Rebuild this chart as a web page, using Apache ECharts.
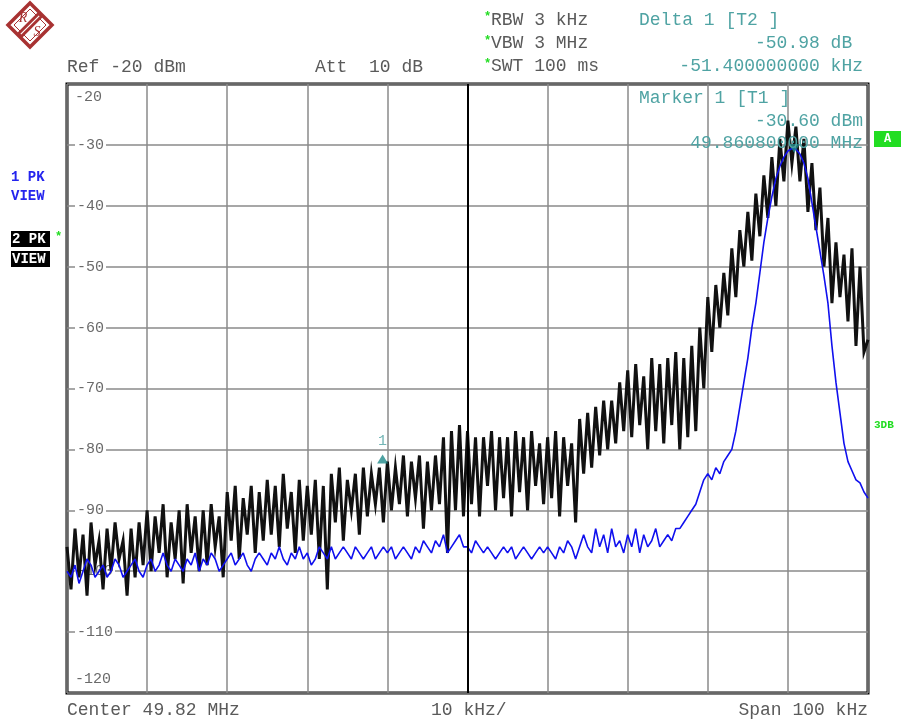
<!DOCTYPE html>
<html><head><meta charset="utf-8">
<script src="https://cdn.jsdelivr.net/npm/echarts@6/dist/echarts.min.js"></script>
<style>html,body{margin:0;padding:0;background:#fff}#c{width:904px;height:719px}</style>
</head><body><div id="c"></div>
<script>
// Frequency offset from start (49.77 MHz) in kHz, 0.5 kHz per point
const freqStepKHz = 0.5;
// Trace 1 (PK, black), dBm
const trace1 = [
 -96,-103,-93,-101,-94,-104,-92,-99,-95,-103,
 -93,-100,-92,-98,-95,-104,-93,-101,-92,-99,
 -90,-100,-91,-97,-89,-101,-92,-98,-90,-102,
 -89,-97,-91,-100,-90,-99,-89,-96,-91,-101,
 -87,-95,-86,-98,-88,-94,-86,-97,-87,-95,
 -85,-94,-86,-96,-84,-93,-87,-97,-85,-95,
 -86,-94,-85,-98,-86,-103,-84,-92,-83,-95,
 -85,-90,-84,-94,-83,-91,-84,-89,-83,-92,
 -82,-90,-83,-89,-81,-91,-82,-88,-81,-93,
 -82,-90,-81,-89,-78,-97,-77,-90,-76,-91,
 -77,-89,-78,-91,-78,-86,-77,-90,-78,-88,
 -78,-91,-77,-87,-78,-90,-77,-86,-79,-89,
 -78,-88,-77,-91,-78,-86,-79,-92,-75,-84,
 -74,-83,-73,-81,-72,-80,-72,-79,-69,-77,
 -67,-78,-66,-76,-68,-80,-65,-77,-66,-79,
 -65,-76,-64,-80,-65,-78,-63,-77,-60,-70,
 -55,-64,-53,-60,-51,-58,-47,-55,-44,-50,
 -41,-49,-38,-45,-35,-42,-32,-40,-29,-36,
 -26,-33,-27,-36,-29,-41,-33,-44,-37,-50,
 -42,-56,-46,-55,-48,-59,-47,-63,-50,-64,-62
];
// Trace 2 (PK, blue), dBm
const trace2 = [
 -100,-101,-99,-102,-100,-98,-99,-101,-100,-99,
 -101,-100,-98,-99,-101,-100,-99,-98,-100,-101,
 -99,-98,-100,-99,-97,-99,-100,-98,-99,-100,
 -98,-99,-97,-100,-98,-99,-97,-98,-100,-99,
 -98,-97,-99,-98,-97,-99,-100,-98,-97,-98,
 -99,-97,-98,-96,-98,-99,-97,-98,-96,-98,
 -97,-99,-98,-96,-97,-98,-96,-98,-97,-96,
 -97,-98,-96,-97,-98,-97,-96,-98,-97,-96,
 -97,-96,-98,-97,-96,-97,-98,-96,-97,-95,
 -96,-97,-95,-96,-94,-97,-96,-95,-94,-96,
 -96,-97,-95,-96,-97,-96,-97,-98,-97,-96,
 -97,-96,-98,-97,-96,-97,-98,-97,-96,-97,
 -96,-97,-98,-96,-97,-95,-96,-98,-96,-94,
 -96,-97,-93,-96,-94,-97,-93,-96,-95,-97,
 -94,-96,-93,-97,-94,-96,-95,-93,-96,-95,
 -94,-95,-93,-93,-92,-91,-90,-89,-87,-85,
 -84,-85,-83,-84,-82,-81,-80,-77,-73,-69,
 -65,-60,-56,-51,-46,-42,-38.5,-35.5,-33.5,-32,
 -31,-30.6,-30.7,-31.5,-33,-35.5,-39.5,-43.5,-47.5,-51.5,
 -56,-63,-69,-74,-79,-82,-83.5,-85,-85.5,-87,
 -88
];
const yMin = -120, yMax = -20, yStep = 10;
const xMin = 0, xMax = 100, xStep = 10;
const marker1 = [90.8, -30.6];   // Marker 1 [T1]
const delta1 = [39.4, -81.58];   // Delta 1 [T2]

const mono = "'Courier New','Liberation Mono',monospace";
const gray = '#5a5a5a';
const teal = '#4fa3a3';
const green = '#22dd22';
const logoRed = '#a83232';

const d1 = trace1.map((v,i)=>[i*freqStepKHz, v]);
const d2 = trace2.map((v,i)=>[i*freqStepKHz, v]);

function txt(x,y,text,opt){
  opt = opt||{};
  return {type:'text', x:x, y:y, z:100, style:Object.assign({text:text, fill:gray, font:'18px '+mono, textVerticalAlign:'middle', textAlign:'left'}, opt)};
}

const chart = echarts.init(document.getElementById('c'), null, {renderer:'canvas'});
chart.setOption({
  animation:false,
  backgroundColor:'#fff',
  grid:{left:67,right:36,top:84,bottom:26,show:true,borderColor:'#000',borderWidth:3,backgroundColor:'#fff'},
  xAxis:{type:'value',min:xMin,max:xMax,interval:xStep,
    axisLine:{show:false},axisTick:{show:false},axisLabel:{show:false},
    splitLine:{show:true,lineStyle:{color:'#8a8a8a',width:1.5}}},
  yAxis:{type:'value',min:yMin,max:yMax,interval:yStep,
    axisLine:{show:false},axisTick:{show:false},
    splitLine:{show:true,lineStyle:{color:'#8a8a8a',width:1.5}},
    axisLabel:{inside:true,margin:8,color:'#6a6a6a',
      formatter:function(v){ if(v===yMax) return '{t|'+v+'}'; if(v===yMin) return '{b|'+v+'}'; return '{m|'+v+'}'; },
      rich:{
        t:{fontFamily:mono,fontSize:15,color:'#6a6a6a',padding:[26,0,0,0]},
        b:{fontFamily:mono,fontSize:15,color:'#6a6a6a',padding:[0,0,28,0]},
        m:{fontFamily:mono,fontSize:15,color:'#6a6a6a',backgroundColor:'#fff',padding:[0,2]}
      }}},
  series:[
    {type:'line',data:d1,showSymbol:false,symbol:'none',lineStyle:{color:'#111',width:3,join:'miter'},z:2,
     markLine:{silent:true,symbol:'none',label:{show:false},lineStyle:{color:'#000',width:2,type:'solid'},data:[{xAxis:50}]}},
    {type:'line',data:d2,showSymbol:false,symbol:'none',lineStyle:{color:'#1010ee',width:1.6},z:3},
    {type:'scatter',data:[delta1],symbol:'triangle',symbolSize:[11,9],itemStyle:{color:'#1f8a8a'},z:5,
     label:{show:true,position:'top',distance:6,formatter:'1',color:teal,fontFamily:mono,fontSize:15}},
    {type:'scatter',data:[marker1],symbol:'triangle',symbolRotate:180,symbolSize:[11,9],itemStyle:{color:'#1f8a8a'},z:5}
  ],
  graphic:[
    // R&S logo
    {type:'polygon',z:100,shape:{points:[[30,3],[52,25],[30,47],[8,25]]},style:{fill:'#fff',stroke:logoRed,lineWidth:3.5}},
    {type:'polygon',z:100,shape:{points:[[30,9],[46,25],[30,41],[14,25]]},style:{fill:'none',stroke:logoRed,lineWidth:1}},
    {type:'rect',z:101,x:30,y:25,rotation:Math.PI/4,shape:{x:-15,y:-3.5,width:30,height:7},style:{fill:logoRed}},
    {type:'rect',z:102,x:30,y:25,rotation:Math.PI/4,shape:{x:-13,y:-0.6,width:26,height:1.2},style:{fill:'#fff'}},
    {type:'text',z:103,x:23,y:18,style:{text:'R',fill:logoRed,font:'italic 14px Liberation Serif',textAlign:'center',textVerticalAlign:'middle'}},
    {type:'text',z:103,x:37,y:32,style:{text:'S',fill:logoRed,font:'italic 14px Liberation Serif',textAlign:'center',textVerticalAlign:'middle'}},
    // header
    txt(67,67,'Ref -20 dBm'),
    txt(315,67,'Att  10 dB'),
    txt(484,17,'*',{fill:green,font:'bold 12px '+mono}),
    txt(484,41,'*',{fill:green,font:'bold 12px '+mono}),
    txt(484,64,'*',{fill:green,font:'bold 12px '+mono}),
    txt(491,20,'RBW 3 kHz'),
    txt(491,43,'VBW 3 MHz'),
    txt(491,66,'SWT 100 ms'),
    txt(639,20,'Delta 1 [T2 ]',{fill:teal}),
    txt(863,43,'-50.98 dB ',{fill:teal,textAlign:'right'}),
    txt(863,66,'-51.400000000 kHz',{fill:teal,textAlign:'right'}),
    txt(639,98,'Marker 1 [T1 ]',{fill:teal}),
    txt(863,121,'-30.60 dBm',{fill:teal,textAlign:'right'}),
    txt(863,143,'49.860800000 MHz',{fill:teal,textAlign:'right'}),
    // left trace labels
    txt(11,177,'1 PK',{fill:'#2424ee',font:'bold 14px '+mono}),
    txt(11,196,'VIEW',{fill:'#2424ee',font:'bold 14px '+mono}),
    {type:'rect',z:100,shape:{x:11,y:231,width:39,height:16},style:{fill:'#000'}},
    {type:'rect',z:100,shape:{x:11,y:251,width:39,height:16},style:{fill:'#000'}},
    txt(12,239,'2 PK',{fill:'#fff',font:'bold 14px '+mono}),
    txt(12,259,'VIEW',{fill:'#fff',font:'bold 14px '+mono}),
    txt(55,237,'*',{fill:green,font:'bold 12px '+mono}),
    // right side
    {type:'rect',z:100,shape:{x:874,y:131,width:27,height:16},style:{fill:green}},
    {type:'text',z:101,x:887.5,y:139,style:{text:'A',fill:'#fff',font:'bold 12px '+mono,textAlign:'center',textVerticalAlign:'middle'}},
    txt(874,425,'3DB',{fill:green,font:'bold 11px '+mono}),
    // footer
    txt(67,710,'Center 49.82 MHz'),
    txt(431,710,'10 kHz/'),
    txt(868,710,'Span 100 kHz',{textAlign:'right'})
  ]
});
</script>
</body></html>
